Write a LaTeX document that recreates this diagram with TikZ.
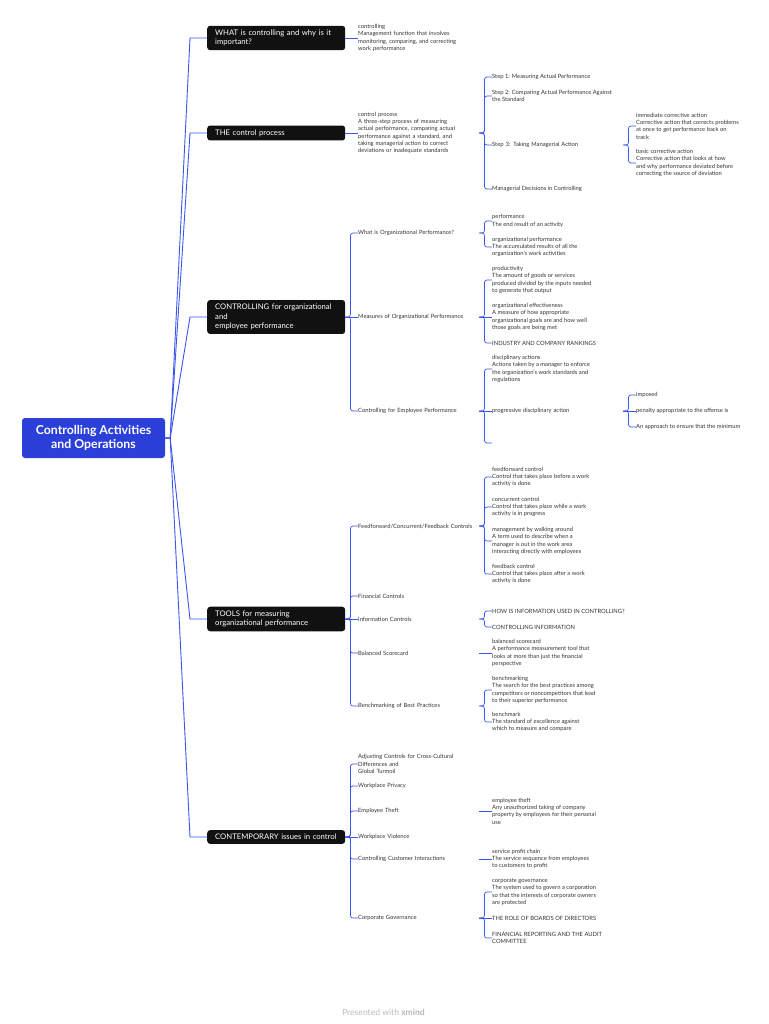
\documentclass[tikz,border=0pt]{standalone}
\usepackage{fontspec}
\setmainfont{Lato}
\definecolor{rootblue}{HTML}{2B40D8}
\definecolor{lineblue}{HTML}{3A56F0}
\definecolor{topicblack}{HTML}{111111}
\definecolor{notegray}{HTML}{333333}

\begin{document}
\begin{tikzpicture}[x=1pt,y=-1pt,
  rootbox/.style={fill=rootblue,text=white,rounded corners=3pt,align=center,
    minimum width=143pt,minimum height=40pt,inner sep=0pt,
    font=\fontsize{12.3}{14}\selectfont\bfseries},
  maintopic/.style={fill=topicblack,text=white,rounded corners=3pt,align=left,
    anchor=west,text width=122pt,inner xsep=8pt,inner ysep=4pt,
    font=\fontsize{7.7}{9.5}\selectfont},
  leaf/.style={text=notegray,align=left,anchor=west,inner sep=0pt,
    font=\fontsize{5.8}{7.3}\selectfont},
  subtopic/.style={leaf,text width=121pt},
  detail/.style={leaf,text width=131pt},
  footer/.style={text=black!28,font=\fontsize{8.6}{10}\selectfont},
  rootlink/.style={draw=lineblue,line width=0.9pt,
    to path={-- ++(5,0) -- ([xshift=-17pt]\tikztotarget) [rounded corners=8pt] -- (\tikztotarget)}},
  straight/.style={draw=lineblue,color=lineblue,line width=0.7pt},
  brace/.style={straight,rounded corners=2.5pt,
    to path={-- ++(5,0) |- (\tikztotarget)}}
  ]
  \useasboundingbox (0,0) rectangle (768,1024);

  % centre and main topics
  \node[rootbox] (NRoot) at (93.5,438) {Controlling Activities\\and Operations};
  \node[maintopic] (N1) at (207,38) {WHAT is controlling and why is it\\important?};
  \node[maintopic] (N2) at (207,133) {THE control process};
  \node[maintopic] (N3) at (207,317) {CONTROLLING for organizational\\and\\employee performance};
  \node[maintopic] (N4) at (207,619) {TOOLS for measuring\\organizational performance};
  \node[maintopic] (N5) at (207,837) {CONTEMPORARY issues in control};

  % subtopics
  \node[subtopic] (N1a) at (358,38) {controlling\\Management function that involves\\monitoring, comparing, and correcting\\work performance};
  \node[subtopic] (N2a) at (358,133) {control process\\A three-step process of measuring\\actual performance, comparing actual\\performance against a standard, and\\taking managerial action to correct\\deviations or inadequate standards};
  \node[subtopic] (N3a) at (358,233) {What is Organizational Performance?};
  \node[subtopic] (N3b) at (358,317) {Measures of Organizational Performance};
  \node[subtopic] (N3c) at (358,411) {Controlling for Employee Performance};
  \node[subtopic] (N4a) at (358,526) {Feedforward/Concurrent/Feedback Controls};
  \node[subtopic] (N4b) at (358,596) {Financial Controls};
  \node[subtopic] (N4c) at (358,619) {Information Controls};
  \node[subtopic] (N4d) at (358,653) {Balanced Scorecard};
  \node[subtopic] (N4e) at (358,706) {Benchmarking of Best Practices};
  \node[subtopic] (N5a) at (358,764) {Adjusting Controls for Cross-Cultural\\Differences and\\Global Turmoil};
  \node[subtopic] (N5b) at (358,786) {Workplace Privacy};
  \node[subtopic] (N5c) at (358,811) {Employee Theft};
  \node[subtopic] (N5d) at (358,837) {Workplace Violence};
  \node[subtopic] (N5e) at (358,859) {Controlling Customer Interactions};
  \node[subtopic] (N5f) at (358,918) {Corporate Governance};

  % details
  \node[leaf] (N2a1) at (492,77) {Step 1: Measuring Actual Performance};
  \node[leaf] (N2a2) at (492,96) {Step 2: Comparing Actual Performance Against\\the Standard};
  \node[detail] (N2a3) at (492,145) {Step 3: Taking Managerial Action};
  \node[leaf] (N2a4) at (492,189) {Managerial Decisions in Controlling};
  \node[leaf] (N2a3a) at (636,126) {immediate corrective action\\Corrective action that corrects problems\\at once to get performance back on\\track};
  \node[leaf] (N2a3b) at (636,163) {basic corrective action\\Corrective action that looks at how\\and why performance deviated before\\correcting the source of deviation};

  \node[leaf] (N3a1) at (492,221) {performance\\The end result of an activity};
  \node[leaf] (N3a2) at (492,247) {organizational performance\\The accumulated results of all the\\organization's work activities};
  \node[leaf] (N3b1) at (492,280) {productivity\\The amount of goods or services\\produced divided by the inputs needed\\to generate that output};
  \node[leaf] (N3b2) at (492,317) {organizational effectiveness\\A measure of how appropriate\\organizational goals are and how well\\those goals are being met};
  \node[leaf] (N3b3) at (492,343) {INDUSTRY AND COMPANY RANKINGS};
  \node[leaf] (N3c1) at (492,369) {disciplinary actions\\Actions taken by a manager to enforce\\the organization's work standards and\\regulations};
  \node[detail] (N3c2) at (492,411) {progressive disciplinary action};
  \coordinate (N3c3) at (492,443);
  \node[leaf] (N3c2a) at (636,395) {imposed};
  \node[leaf] (N3c2b) at (636,411) {penalty appropriate to the offense is};
  \node[leaf] (N3c2c) at (636,427) {An approach to ensure that the minimum};

  \node[leaf] (N4a1) at (492,477) {feedforward control\\Control that takes place before a work\\activity is done};
  \node[leaf] (N4a2) at (492,507) {concurrent control\\Control that takes place while a work\\activity is in progress};
  \node[leaf] (N4a3) at (492,541) {management by walking around\\A term used to describe when a\\manager is out in the work area\\interacting directly with employees};
  \node[leaf] (N4a4) at (492,574) {feedback control\\Control that takes place after a work\\activity is done};
  \node[leaf] (N4c1) at (492,611) {HOW IS INFORMATION USED IN CONTROLLING?};
  \node[leaf] (N4c2) at (492,627) {CONTROLLING INFORMATION};
  \node[leaf] (N4d1) at (492,653) {balanced scorecard\\A performance measurement tool that\\looks at more than just the financial\\perspective};
  \node[leaf] (N4e1) at (492,690) {benchmarking\\The search for the best practices among\\competitors or noncompetitors that lead\\to their superior performance};
  \node[leaf] (N4e2) at (492,722) {benchmark\\The standard of excellence against\\which to measure and compare};

  \node[leaf] (N5c1) at (492,811) {employee theft\\Any unauthorized taking of company\\property by employees for their personal\\use};
  \node[leaf] (N5e1) at (492,859) {service profit chain\\The service sequence from employees\\to customers to profit};
  \node[leaf] (N5f1) at (492,892) {corporate governance\\The system used to govern a corporation\\so that the interests of corporate owners\\are protected};
  \node[leaf] (N5f2) at (492,918) {THE ROLE OF BOARDS OF DIRECTORS};
  \node[leaf] (N5f3) at (492,938) {FINANCIAL REPORTING AND THE AUDIT\\COMMITTEE};

  \node[footer] (NFoot) at (383.5,1012) {Presented with \textbf{xmind}};

  % connectors
  \path (NRoot.east)
    edge[rootlink] (N1.west) edge[rootlink] (N2.west) edge[rootlink] (N3.west)
    edge[rootlink] (N4.west) edge[rootlink] (N5.west);
  \path (N1.east) edge[straight] (N1a.west);
  \path (N2.east) edge[straight] (N2a.west);
  \path (N2a.east) edge[brace] (N2a1.west) edge[brace] (N2a2.west)
    edge[brace] (N2a3.west) edge[brace] (N2a4.west);
  \path (N2a3.east) edge[brace] (N2a3a.west) edge[brace] (N2a3b.west);
  \path (N3.east) edge[brace] (N3a.west) edge[straight] (N3b.west) edge[brace] (N3c.west);
  \path (N3a.east) edge[brace] (N3a1.west) edge[brace] (N3a2.west);
  \path (N3b.east) edge[brace] (N3b1.west) edge[straight] (N3b2.west) edge[brace] (N3b3.west);
  \path (N3c.east) edge[brace] (N3c1.west) edge[straight] (N3c2.west) edge[brace] (N3c3);
  \path (N3c2.east) edge[brace] (N3c2a.west) edge[straight] (N3c2b.west) edge[brace] (N3c2c.west);
  \path (N4.east) edge[brace] (N4a.west) edge[brace] (N4b.west) edge[straight] (N4c.west)
    edge[brace] (N4d.west) edge[brace] (N4e.west);
  \path (N4a.east) edge[brace] (N4a1.west) edge[brace] (N4a2.west)
    edge[brace] (N4a3.west) edge[brace] (N4a4.west);
  \path (N4c.east) edge[brace] (N4c1.west) edge[brace] (N4c2.west);
  \path (N4d.east) edge[straight] (N4d1.west);
  \path (N4e.east) edge[brace] (N4e1.west) edge[brace] (N4e2.west);
  \path (N5.east) edge[brace] (N5a.west) edge[brace] (N5b.west) edge[brace] (N5c.west)
    edge[straight] (N5d.west) edge[brace] (N5e.west) edge[brace] (N5f.west);
  \path (N5c.east) edge[straight] (N5c1.west);
  \path (N5e.east) edge[straight] (N5e1.west);
  \path (N5f.east) edge[brace] (N5f1.west) edge[straight] (N5f2.west) edge[brace] (N5f3.west);
\end{tikzpicture}
\end{document}
